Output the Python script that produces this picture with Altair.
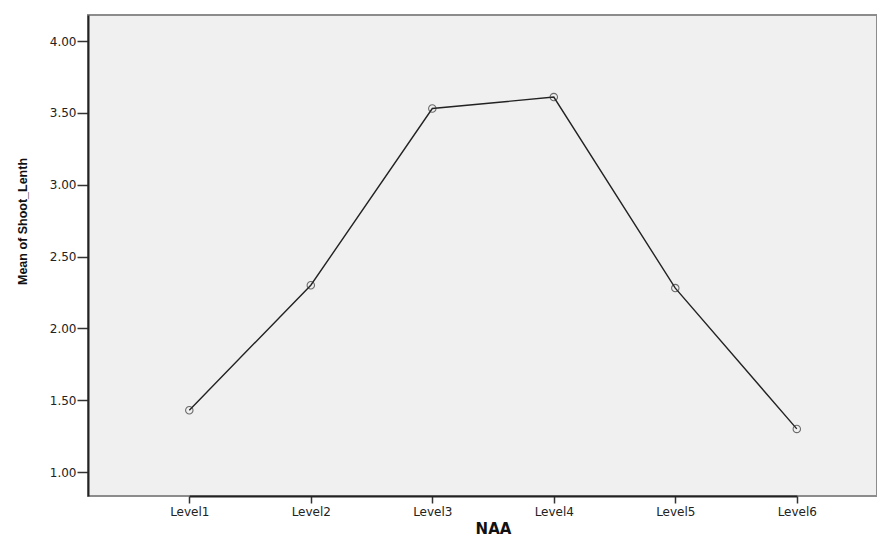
import altair as alt
import pandas as pd

levels = ["Level1", "Level2", "Level3", "Level4", "Level5", "Level6"]
means = [1.43, 2.30, 3.53, 3.61, 2.28, 1.30]
y_ticks = [1.0, 1.5, 2.0, 2.5, 3.0, 3.5, 4.0]

df = pd.DataFrame({"NAA": levels, "mean": means})

x_enc = alt.X(
    "NAA:N",
    sort=levels,
    scale=alt.Scale(type="point", range=[101.3, 708.8], padding=0),
    axis=alt.Axis(
        title="NAA",
        labelAngle=0,
        labelFont="DejaVu Sans",
        labelFontSize=12,
        labelColor="#222222",
        labelPadding=3,
        tickSize=7,
        tickColor="#333333",
        tickWidth=1.5,
        domainColor="#222222",
        domainWidth=2,
        titleFont="DejaVu Sans",
        titleFontSize=15,
        titleFontWeight="bold",
        titleColor="#111111",
        titleX=405,
        titleY=37,
        titleAlign="center",
        titleBaseline="alphabetic",
        grid=False,
    ),
)
y_enc = alt.Y(
    "mean:Q",
    scale=alt.Scale(domain=[0.833, 4.181], nice=False, zero=False),
    axis=alt.Axis(
        title="Mean of Shoot_Lenth",
        values=y_ticks,
        format=".2f",
        labelFont="DejaVu Sans",
        labelFontSize=12,
        labelColor="#222222",
        labelPadding=1,
        tickSize=11,
        tickColor="#333333",
        tickWidth=1.5,
        domainColor="#222222",
        domainWidth=2,
        titleFont="Liberation Sans",
        titleFontSize=12.5,
        titleFontWeight="bold",
        titleColor="#111111",
        titleAngle=270,
        titleAlign="center",
        titleBaseline="middle",
        titleX=-66,
        titleY=206,
        grid=False,
    ),
)

base = alt.Chart(df).encode(x=x_enc, y=y_enc)
line = base.mark_line(color="#222222", strokeWidth=1.4)
pts = base.mark_point(shape="circle", filled=False, size=55, color="#333333", strokeWidth=1.1)

chart = (
    (line + pts)
    .properties(
        width=789,
        height=481,
        autosize=alt.AutoSizeParams(type="none"),
        padding={"left": 80, "top": 7, "right": 0, "bottom": 40},
        background="#ffffff",
    )
    .configure_view(fill="#f0f0f0", stroke="#8c8c8c", strokeWidth=2)
)

chart.save("out.html", embed_options={"renderer": "svg", "actions": False})
